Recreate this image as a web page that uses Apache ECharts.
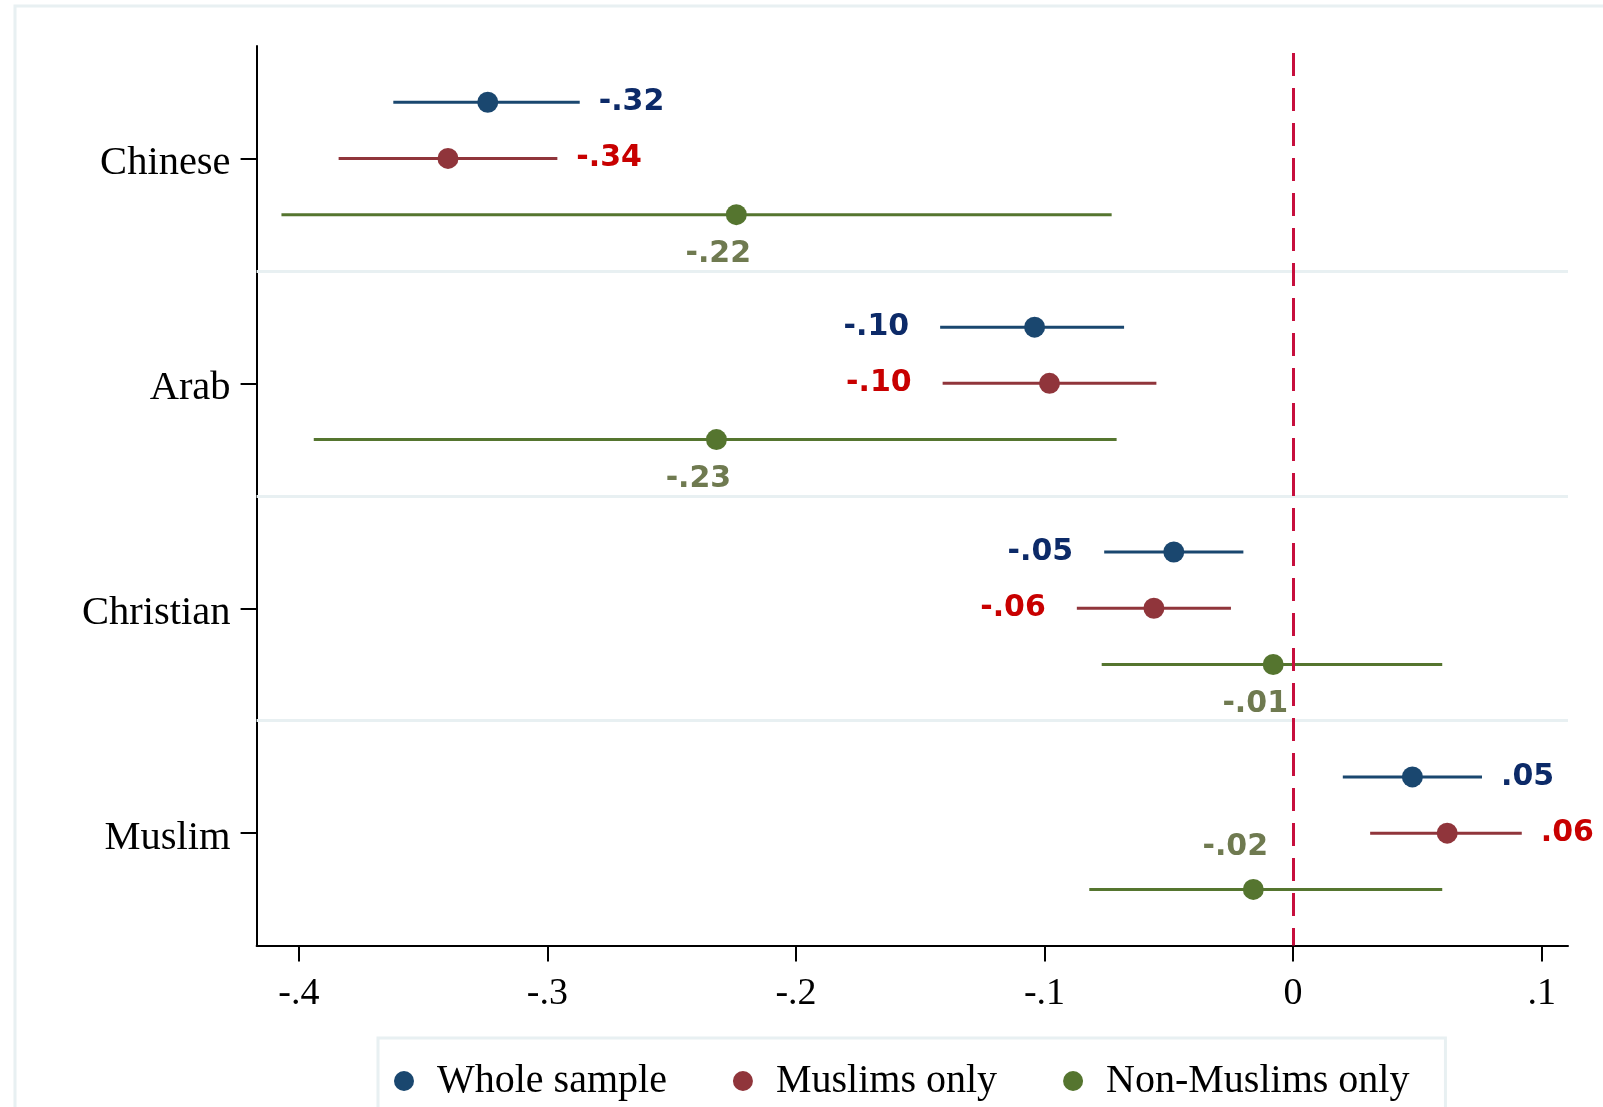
<!DOCTYPE html>
<html>
<head>
<meta charset="utf-8">
<title>Coefficient plot</title>
<script src="https://cdn.jsdelivr.net/npm/echarts@6/dist/echarts.min.js"></script>
<style>
  html, body { margin: 0; padding: 0; background: #ffffff; }
  #chart { width: 1603px; height: 1107px; }
</style>
</head>
<body>
<div id="chart"></div>
<script>
// Groups on the vertical axis, top to bottom
const categories = ['Chinese', 'Arab', 'Christian', 'Muslim'];
const seriesNames = ['Whole sample', 'Muslims only', 'Non-Muslims only'];

// Point estimates and confidence bounds, one entry per group
const wholeEst = [-0.324, -0.104, -0.048, 0.048];
const wholeLo  = [-0.362, -0.142, -0.076, 0.020];
const wholeHi  = [-0.287, -0.068, -0.020, 0.076];

const muslimEst = [-0.340, -0.098, -0.056, 0.062];
const muslimLo  = [-0.384, -0.141, -0.087, 0.031];
const muslimHi  = [-0.296, -0.055, -0.025, 0.092];

const nonMuslimEst = [-0.224, -0.232, -0.008, -0.016];
const nonMuslimLo  = [-0.407, -0.394, -0.077, -0.082];
const nonMuslimHi  = [-0.073, -0.071, 0.060, 0.060];

const xTicks = [-0.4, -0.3, -0.2, -0.1, 0, 0.1];
const yTicks = [1, 2, 3, 4];
const separators = [1.5, 2.5, 3.5];

// Styling
const markerColors = ['#1a476f', '#90353b', '#55752f'];
const labelColors  = ['#0c2a68', '#c80000', '#6f7a50'];
const rowOffsets   = [-0.25, 0, 0.25];
const labelSides = [
  ['right', 'left', 'left', 'right'],
  ['right', 'left', 'left', 'right'],
  ['below', 'below', 'below', 'above']
];
const estimates = [wholeEst, muslimEst, nonMuslimEst];
const lows = [wholeLo, muslimLo, nonMuslimLo];
const highs = [wholeHi, muslimHi, nonMuslimHi];

const serif = '"Liberation Serif", "Times New Roman", serif';
const labelFont = '"DejaVu Sans", sans-serif';

function tickText(v) {
  if (Math.abs(v) < 1e-9) return '0';
  const s = Math.abs(v).toFixed(1).replace(/^0/, '');
  return (v < 0 ? '-' : '') + s;
}
function valueText(v) {
  const s = Math.abs(v).toFixed(2).replace(/^0/, '');
  return (v < 0 ? '-' : '') + s;
}

function makeSeries(k) {
  const data = categories.map((c, i) => [estimates[k][i], i + 1 + rowOffsets[k], lows[k][i], highs[k][i], i]);
  return {
    name: seriesNames[k],
    type: 'custom',
    clip: false,
    z: 3,
    itemStyle: { color: markerColors[k] },
    encode: { x: [0, 2, 3], y: 1 },
    data: data,
    renderItem: function (params, api) {
      const est = api.value(0), y = api.value(1), lo = api.value(2), hi = api.value(3);
      const idx = api.value(4);
      const pE = api.coord([est, y]);
      const pL = api.coord([lo, y]);
      const pH = api.coord([hi, y]);
      const side = labelSides[k][idx];
      let tx, ty, align;
      if (side === 'right') { tx = pH[0] + 19; ty = pE[1]; align = 'left'; }
      else if (side === 'left') { tx = pL[0] - 31; ty = pE[1]; align = 'right'; }
      else if (side === 'below') { tx = pE[0] - 18; ty = pE[1] + 40; align = 'center'; }
      else { tx = pE[0] - 18; ty = pE[1] - 42; align = 'center'; }
      return {
        type: 'group',
        children: [
          { type: 'line', shape: { x1: pL[0], y1: pL[1], x2: pH[0], y2: pH[1] },
            style: { stroke: markerColors[k], lineWidth: 3 } },
          { type: 'circle', shape: { cx: pE[0], cy: pE[1], r: 10.5 },
            style: { fill: markerColors[k] } },
          { type: 'text', x: tx, y: ty,
            style: { text: valueText(est), fill: labelColors[k], font: 'bold 30px ' + labelFont,
                     align: align, verticalAlign: 'middle' } }
        ]
      };
    }
  };
}

const chart = echarts.init(document.getElementById('chart'), null, { renderer: 'canvas' });

const option = {
  backgroundColor: '#ffffff',
  animation: false,
  graphic: [{
    type: 'rect', z: -10,
    shape: { x: 15, y: 6, width: 1700, height: 1300 },
    style: { fill: '#ffffff', stroke: '#e8f0f2', lineWidth: 3 }
  }],
  grid: { left: 256.6, right: 35, top: 46, bottom: 161.4, containLabel: false, outerBoundsMode: 'none' },
  legend: {
    data: seriesNames.map(n => ({ name: n, icon: 'circle' })),
    left: 378, top: 1038,
    orient: 'horizontal',
    itemWidth: 20, itemHeight: 20, itemGap: 66,
    padding: [22, 36, 40, 16],
    borderColor: '#e8f0f2', borderWidth: 3,
    backgroundColor: '#ffffff',
    textStyle: { fontFamily: serif, fontSize: 40, color: '#000', lineHeight: 42, padding: [0, 0, 0, 18] }
  },
  xAxis: {
    type: 'value', min: -0.417, max: 0.1106,
    axisLine: { show: true, onZero: false, lineStyle: { color: '#000', width: 2 } },
    axisTick: { show: true, customValues: xTicks, length: 16, lineStyle: { color: '#000', width: 2 } },
    axisLabel: { customValues: xTicks, formatter: tickText, fontFamily: serif, fontSize: 38,
                 color: '#000', margin: 29 },
    splitLine: { show: false }
  },
  yAxis: {
    type: 'value', inverse: true, min: 0.5, max: 4.5,
    axisLine: { show: true, onZero: false, lineStyle: { color: '#000', width: 2 } },
    axisTick: { show: true, customValues: yTicks, length: 16, lineStyle: { color: '#000', width: 2 } },
    axisLabel: { customValues: yTicks, formatter: v => '{c|' + categories[Math.round(v) - 1] + '}',
                 color: '#000', margin: 26,
                 rich: { c: { fontFamily: serif, fontSize: 40.5, color: '#000', padding: [10, 0, 0, 0] } } },
    splitLine: { show: false }
  },
  series: [
    {
      name: 'guides', type: 'line', data: [], z: 1, silent: true,
      markLine: {
        silent: true, symbol: 'none', label: { show: false },
        lineStyle: { color: '#e8f0f2', width: 3, type: 'solid' },
        data: separators.map(v => ({ yAxis: v }))
      }
    },
    makeSeries(0),
    makeSeries(1),
    makeSeries(2),
    {
      name: 'zero', type: 'line', data: [], z: 4, silent: true,
      markLine: {
        silent: true, symbol: 'none', label: { show: false },
        lineStyle: { color: '#c70f3d', width: 3, type: [23, 12], dashOffset: -7 },
        data: [{ xAxis: 0 }]
      }
    }
  ]
};

chart.setOption(option);
</script>
</body>
</html>
